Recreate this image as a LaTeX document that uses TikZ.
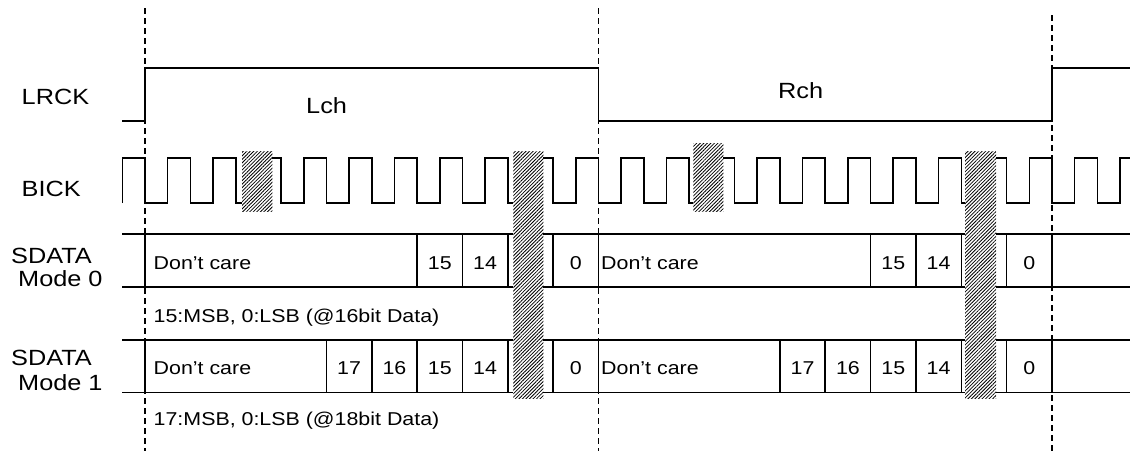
\documentclass[tikz,border=0pt]{standalone}
\usepackage{fontspec}
\setmainfont[FakeStretch=1.15]{Liberation Sans}
\usetikzlibrary{patterns.meta}

\begin{document}
\begin{tikzpicture}[x=1pt,y=-1pt,
    wave/.style={line width=1.6pt},
    guide/.style={line width=1.3pt,dash pattern=on 6pt off 4pt},
    hatch/.style={fill=white,postaction={pattern={Lines[angle=45,distance=2.5pt,line width=0.8pt]}}},
    biglbl/.style={anchor=base west,inner sep=0pt,font=\fontsize{22}{26}\selectfont},
    cell/.style={inner sep=0pt,font=\fontsize{18.6}{22}\selectfont}]
    \useasboundingbox (0,0) rectangle (1130,451);
    \def\slotw{45.35}

    \node[biglbl] (lrck) at (21.5,104) {LRCK};
    \node[biglbl] (bick) at (21.5,196.7) {BICK};
    \node[biglbl] (sd0) at (11,263.3) {SDATA};
    \node[biglbl] (mode0) at (18,286.7) {Mode 0};
    \node[biglbl] (sd1) at (11,365.7) {SDATA};
    \node[biglbl] (mode1) at (18,390) {Mode 1};
    \node[biglbl] (lch) at (306,113.3) {Lch};
    \node[biglbl] (rch) at (778,98.3) {Rch};

    % LRCK
    \draw[wave] (122,121) -- (145,121) -- (145,68) -- (598.5,68) -- (598.5,121)
        -- (1052,121) -- (1052,68) -- (1130,68);

    % BICK
    \draw[wave] (122.3,203) -- (122.3,158)
        \foreach \k in {0,...,21}
        {
            -- ({145+\k*\slotw},158) -- ({145+\k*\slotw},203)
            -- ({145+(\k+0.5)*\slotw},203) -- ({145+(\k+0.5)*\slotw},158)
        }
        -- (1130,158);

    % SDATA rows
    \foreach \top/\bot in {234/286.7,340/392.3}
    {
        \draw[wave] (122,\top) -- (1130,\top);
        \draw[wave] (122,\bot) -- (1130,\bot);
    };
    \foreach \k in {0,6,7,8,9,10,16,17,18,19,20}
        \draw[wave] ({145+\k*\slotw},234) -- ({145+\k*\slotw},286.7);
    \foreach \k in {0,4,5,6,7,8,9,10,14,15,16,17,18,19,20}
        \draw[wave] ({145+\k*\slotw},340) -- ({145+\k*\slotw},392.3);

    \foreach \k/\bit in {6/15,7/14,9/0,16/15,17/14,19/0}
        \node[cell,anchor=base] (m0b\k) at ({145+(\k+0.5)*\slotw},269) {\bit};
    \foreach \k/\bit in {4/17,5/16,6/15,7/14,9/0,14/17,15/16,16/15,17/14,19/0}
        \node[cell,anchor=base] (m1b\k) at ({145+(\k+0.5)*\slotw},374.5) {\bit};

    \node[cell,anchor=base west] (m0l) at (153.5,269) {Don’t care};
    \node[cell,anchor=base west] (m0r) at (601,269) {Don’t care};
    \node[cell,anchor=base west] (m1l) at (153.5,374.5) {Don’t care};
    \node[cell,anchor=base west] (m1r) at (601,374.5) {Don’t care};
    \node[cell,anchor=base west] (m0note) at (153.5,322) {15:MSB, 0:LSB (@16bit Data)};
    \node[cell,anchor=base west] (m1note) at (153.5,425.7) {17:MSB, 0:LSB (@18bit Data)};

    \foreach \x/\y in {145/8,598.5/8,1052/15}
        \draw[guide] (\x,\y) -- (\x,451);

    \path[hatch] (242,151.7) rectangle (272.3,211.7);
    \path[hatch] (693.3,143.3) rectangle (723.3,211.7);
    \path[hatch] (513.3,151.7) rectangle (543.3,398.3);
    \path[hatch] (965,151.7) rectangle (996,398.3);
\end{tikzpicture}
\end{document}
